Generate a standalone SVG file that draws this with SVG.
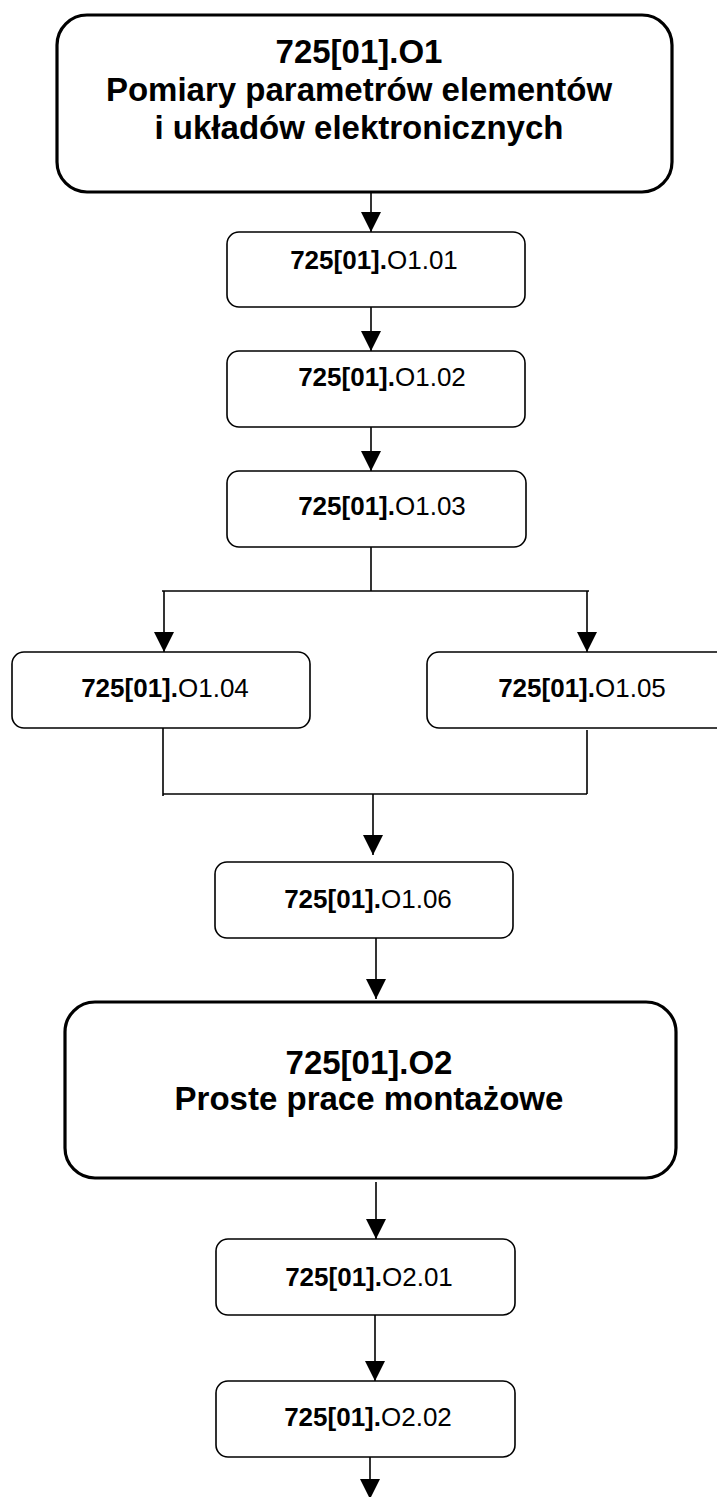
<svg xmlns="http://www.w3.org/2000/svg" width="717" height="1497" viewBox="0 0 717 1497">
<style>
.big{fill:#fff;stroke:#000;stroke-width:3.2}
.box{fill:#fff;stroke:#000;stroke-width:1.6}
.t{font-family:"Liberation Sans",Arial,sans-serif;fill:#000;text-anchor:middle}
.bt{font-size:33px;font-weight:bold}
.st{font-size:26px}
.b{font-weight:bold}
.c{fill:none;stroke:#000;stroke-width:1.6}
</style>
<defs>
<marker id="ah" markerUnits="userSpaceOnUse" markerWidth="20" markerHeight="20" refX="20" refY="10" orient="auto" viewBox="0 0 20 20">
<path d="M0,0 L20,10 L0,20 Z" fill="#000"/>
</marker>
</defs>
<rect width="717" height="1497" fill="#fff"/>
<g id="connectors">
<line class="c" x1="371" y1="183" x2="371" y2="232" marker-end="url(#ah)"/>
<line class="c" x1="371" y1="307" x2="371" y2="351" marker-end="url(#ah)"/>
<line class="c" x1="371" y1="427" x2="371" y2="471" marker-end="url(#ah)"/>
<polyline class="c" points="371,547 371,591"/>
<line class="c" x1="162" y1="591" x2="589" y2="591"/>
<line class="c" x1="164" y1="591" x2="164" y2="652" marker-end="url(#ah)"/>
<line class="c" x1="587" y1="591" x2="587" y2="652" marker-end="url(#ah)"/>
<line class="c" x1="163" y1="728" x2="163" y2="796"/>
<line class="c" x1="587" y1="730" x2="587" y2="794"/>
<line class="c" x1="163" y1="794" x2="587" y2="794"/>
<line class="c" x1="373" y1="794" x2="373" y2="855" marker-end="url(#ah)"/>
<line class="c" x1="376" y1="938" x2="376" y2="999" marker-end="url(#ah)"/>
<line class="c" x1="376" y1="1182" x2="376" y2="1239" marker-end="url(#ah)"/>
<line class="c" x1="375" y1="1315" x2="375" y2="1381" marker-end="url(#ah)"/>
<line class="c" x1="370" y1="1457" x2="370" y2="1499" marker-end="url(#ah)"/>
</g>
<g id="n-O1">
<rect class="big" x="57" y="15" width="615" height="177" rx="30"/>
<text class="t bt" x="359" y="63">725[01].O1</text>
<text class="t bt" x="359" y="101">Pomiary parametrów elementów</text>
<text class="t bt" x="359" y="139">i układów elektronicznych</text>
</g>
<g id="n-O1-01">
<rect class="box" x="227" y="232" width="298" height="75" rx="12"/>
<text class="t st" x="374" y="269"><tspan class="b">725[01].</tspan>O1.01</text>
</g>
<g id="n-O1-02">
<rect class="box" x="227" y="351" width="298" height="76" rx="12"/>
<text class="t st" x="382" y="386"><tspan class="b">725[01].</tspan>O1.02</text>
</g>
<g id="n-O1-03">
<rect class="box" x="227" y="471" width="299" height="76" rx="12"/>
<text class="t st" x="382" y="515"><tspan class="b">725[01].</tspan>O1.03</text>
</g>
<g id="n-O1-04">
<rect class="box" x="12" y="652" width="298" height="76" rx="12"/>
<text class="t st" x="165" y="697"><tspan class="b">725[01].</tspan>O1.04</text>
</g>
<g id="n-O1-05">
<rect class="box" x="427" y="652" width="305" height="76" rx="12"/>
<text class="t st" x="582" y="697"><tspan class="b">725[01].</tspan>O1.05</text>
</g>
<g id="n-O1-06">
<rect class="box" x="215" y="862" width="298" height="76" rx="12"/>
<text class="t st" x="368" y="908"><tspan class="b">725[01].</tspan>O1.06</text>
</g>
<g id="n-O2">
<rect class="big" x="65" y="1002" width="611" height="176" rx="30"/>
<text class="t bt" x="369" y="1074">725[01].O2</text>
<text class="t bt" x="369" y="1110">Proste prace montażowe</text>
</g>
<g id="n-O2-01">
<rect class="box" x="216" y="1239" width="299" height="76" rx="12"/>
<text class="t st" x="369" y="1286"><tspan class="b">725[01].</tspan>O2.01</text>
</g>
<g id="n-O2-02">
<rect class="box" x="216" y="1381" width="299" height="76" rx="12"/>
<text class="t st" x="368" y="1426"><tspan class="b">725[01].</tspan>O2.02</text>
</g>
</svg>
